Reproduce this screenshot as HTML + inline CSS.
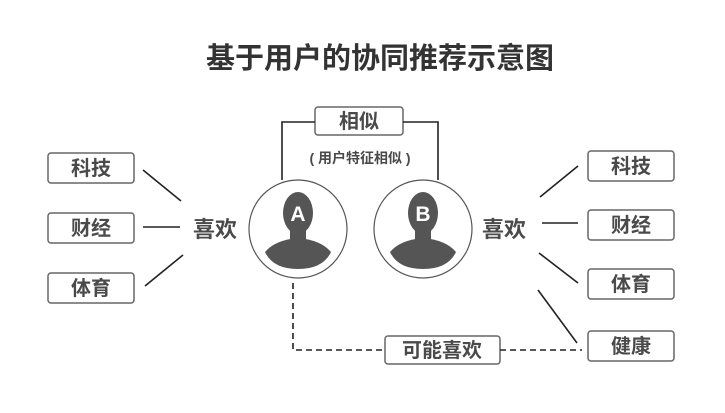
<!DOCTYPE html>
<html><head><meta charset="utf-8"><style>
body{margin:0;width:725px;height:408px;background:#fff;overflow:hidden}
svg text{font-family:"Liberation Sans","Noto Sans CJK SC",sans-serif;font-weight:bold;fill:#4a4a4a}
</style></head><body>
<svg width="725" height="408" viewBox="0 0 725 408">
<text x="380" y="68" font-size="29" text-anchor="middle" style="fill:#333">基于用户的协同推荐示意图</text>
<g fill="#fff" stroke="#666" stroke-width="1.5">
<rect x="48" y="153" width="86" height="30" rx="3"/>
<rect x="48" y="213" width="86" height="30" rx="3"/>
<rect x="48" y="273" width="86" height="30" rx="3"/>
<rect x="588" y="151" width="86" height="30" rx="3"/>
<rect x="588" y="210" width="86" height="30" rx="3"/>
<rect x="588" y="269" width="86" height="30" rx="3"/>
<rect x="588" y="331" width="86" height="30" rx="3"/>
<rect x="315" y="107" width="88" height="28" rx="3"/>
<rect x="385" y="336" width="115" height="28" rx="3"/>
</g>
<g font-size="20" text-anchor="middle">
<text x="91" y="175">科技</text><text x="91" y="235">财经</text><text x="91" y="295">体育</text>
<text x="631" y="173">科技</text><text x="631" y="232">财经</text><text x="631" y="291">体育</text><text x="631" y="353">健康</text>
<text x="359" y="128">相似</text><text x="442" y="357">可能喜欢</text>
</g>
<g font-size="22" text-anchor="middle"><text x="215" y="237">喜欢</text><text x="504" y="237">喜欢</text></g>
<text x="360" y="163" font-size="14" text-anchor="middle">( 用户特征相似 )</text>
<g stroke="#222" stroke-width="1.6" fill="none">
<line x1="143" y1="170" x2="181" y2="201"/><line x1="143" y1="227" x2="180" y2="227"/><line x1="145" y1="286" x2="183" y2="255"/>
<line x1="540" y1="197" x2="578" y2="166"/><line x1="542" y1="223" x2="578" y2="223"/><line x1="539" y1="253" x2="578" y2="283"/><line x1="538" y1="290" x2="577" y2="343"/>
<polyline points="282,180 282,122 315,122"/><polyline points="403,122 438,122 438,180"/>
<polyline points="293,283 293,350 385,350" stroke-dasharray="6,4"/><line x1="500" y1="350" x2="582" y2="350" stroke-dasharray="6,4"/>
</g>
<g stroke="#555" stroke-width="1.2" fill="#fff"><circle cx="298" cy="229" r="49"/><circle cx="423" cy="229" r="49"/></g>
<g fill="#555">
<g id="p1">
<ellipse cx="298" cy="213" rx="15" ry="21"/>
<rect x="290" y="225" width="16" height="20"/>
<path d="M265,252 q10,-12 33,-14 q23,2 33,14 q-8,17 -33,17 q-25,0 -33,-17z"/>
</g>
<g transform="translate(125,0)">
<ellipse cx="298" cy="213" rx="15" ry="21"/>
<rect x="290" y="225" width="16" height="20"/>
<path d="M265,252 q10,-12 33,-14 q23,2 33,14 q-8,17 -33,17 q-25,0 -33,-17z"/>
</g>
</g>
<g font-size="21" text-anchor="middle"><text x="298" y="221" style="fill:#fff">A</text><text x="423" y="221" style="fill:#fff">B</text></g>
</svg>
</body></html>
